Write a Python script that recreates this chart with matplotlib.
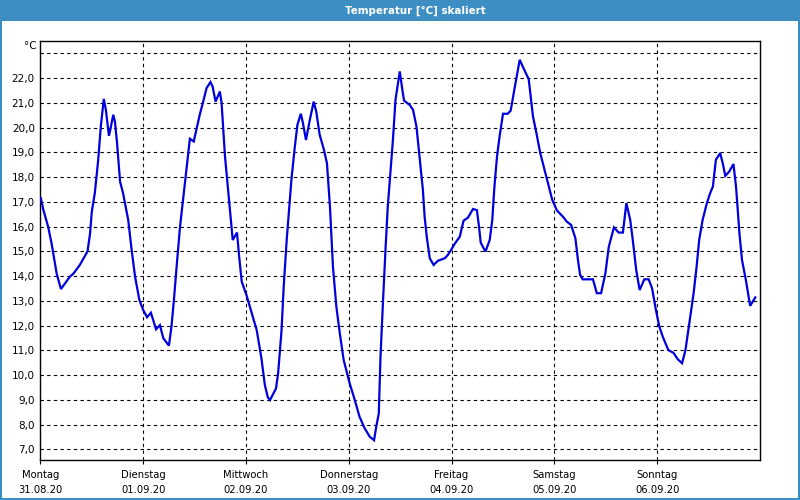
import matplotlib
matplotlib.use("Agg")
import matplotlib.pyplot as plt
from matplotlib.patches import Rectangle

# time in hours since 31.08.20 00:00, temperature in °C
hours = [0.1, 0.7, 1.8, 2.6, 3.8, 4.8, 6.9, 7.7, 9.2, 11.0, 11.6, 12.0, 12.7, 13.5, 14.1,
         14.8, 15.3, 16.0, 16.4, 17.0, 17.4, 17.9, 18.6, 19.3, 20.5, 21.3, 22.1, 23.1, 24.0,
         24.9, 25.8, 27.0, 27.9, 28.7, 30.0, 30.6, 31.2, 31.8, 32.6, 33.3, 34.1, 34.9, 35.8,
         36.5, 37.2, 38.0, 38.8, 39.7, 40.2, 40.9, 41.9, 42.3, 43.1, 44.1, 44.9, 45.9, 46.4,
         47.0, 48.1, 49.7, 50.5, 51.6, 52.4, 53.1, 53.6, 55.0, 55.5, 56.3, 56.8, 57.5, 58.1,
         58.6, 59.4, 60.0, 60.8, 61.3, 62.0, 62.9, 63.8, 64.4, 65.2, 66.2, 66.9, 67.6, 68.3,
         69.1, 69.9, 70.8, 72.2, 73.4, 74.5, 75.7, 76.9, 77.9, 78.4, 79.0, 79.4, 80.0, 80.6,
         81.1, 81.7, 82.3, 82.9, 83.9, 84.5, 84.9, 86.2, 87.0, 87.8, 88.5, 89.3, 89.7, 90.2,
         90.9, 91.8, 92.8, 94.4, 95.1, 95.9, 96.7, 97.9, 98.8, 99.8, 101.0, 101.9, 102.4,
         102.8, 103.9, 104.9, 105.5, 106.0, 106.6, 107.2, 108.0, 109.1, 109.8, 110.5, 111.2,
         111.9, 112.6, 114.0, 115.0, 115.8, 116.7, 117.7, 118.5, 119.5, 120.6, 122.0, 122.9,
         123.9, 124.9, 125.5, 126.0, 126.6, 129.0, 129.9, 130.9, 131.9, 132.7, 133.9, 135.0,
         136.0, 136.8, 137.7, 138.3, 139.1, 139.9, 141.0, 142.0, 142.8, 143.7, 144.5, 145.3,
         146.6, 147.8, 148.8, 149.8, 150.6, 151.5, 152.5, 153.2, 153.8, 154.6, 155.6, 156.3,
         157.0, 157.7, 158.7, 159.3, 159.9, 160.8, 161.8, 162.4, 163.2, 163.8, 164.7, 165.7,
         166.3, 166.9]
temps = [17.15, 16.67, 16.0, 15.33, 14.1, 13.48, 13.98, 14.1, 14.45, 15.0, 15.73, 16.6,
         17.35, 18.7, 20.04, 21.16, 20.7, 19.67, 19.98, 20.52, 20.25, 19.37, 17.82, 17.35,
         16.27, 15.06, 13.98, 13.04, 12.63, 12.34, 12.52, 11.85, 12.02, 11.49, 11.19, 11.96,
         13.1, 14.38, 16.0, 17.08, 18.29, 19.55, 19.44, 19.98, 20.52, 21.05, 21.6, 21.84,
         21.66, 21.05, 21.46, 20.99, 18.83, 16.95, 15.46, 15.76, 14.79, 13.78, 13.24, 12.3,
         11.82, 10.68, 9.6, 9.1, 8.99, 9.46, 10.07, 11.82, 13.57, 15.46, 16.81, 17.89, 19.23,
         20.11, 20.56, 20.18, 19.5, 20.31, 21.05, 20.65, 19.71, 19.1, 18.56, 16.81, 14.38,
         12.76, 11.69, 10.61, 9.67, 8.99, 8.32, 7.85, 7.51, 7.37, 7.91, 8.45, 10.74, 13.04,
         15.19, 16.81, 18.16, 19.5, 21.12, 22.27, 21.53, 21.09, 20.92, 20.72, 20.04, 18.83,
         17.48, 16.4, 15.59, 14.72, 14.45, 14.62, 14.72, 14.85, 15.06, 15.3, 15.59, 16.24,
         16.36, 16.71, 16.67, 16.0, 15.35, 14.99, 15.46, 16.27, 17.62, 18.83, 19.64, 20.56,
         20.56, 20.69, 21.39, 22.06, 22.74, 22.47, 21.96, 20.45, 19.78, 18.97, 18.29, 17.75,
         17.08, 16.65, 16.4, 16.2, 16.07, 15.53, 14.65, 14.05, 13.87, 13.87, 13.31, 13.31,
         14.11, 15.19, 15.97, 15.76, 15.76, 16.95, 16.27, 15.46, 14.25, 13.44, 13.87, 13.87,
         13.51, 12.63, 11.96, 11.55, 11.01, 10.9, 10.64, 10.48, 11.01, 12.09, 13.31, 14.38,
         15.46, 16.27, 16.95, 17.32, 17.62, 18.7, 18.97, 18.56, 18.05, 18.22, 18.53, 17.62,
         15.73, 14.65, 13.84, 12.8, 12.97, 13.14]

day_names = ["Montag", "Dienstag", "Mittwoch", "Donnerstag", "Freitag", "Samstag", "Sonntag"]
day_dates = ["31.08.20", "01.09.20", "02.09.20", "03.09.20", "04.09.20", "05.09.20", "06.09.20"]
y_ticks = [7, 8, 9, 10, 11, 12, 13, 14, 15, 16, 17, 18, 19, 20, 21, 22]
y_grid_extra = [23]
title = "Temperatur [°C] skaliert"
unit = "°C"

W, H = 800, 500
fig = plt.figure(figsize=(8, 5), dpi=100)
fig.patch.set_facecolor("white")

bar_color = "#3d8fc3"
# title bar
fig.patches.append(Rectangle((0, 1 - 21 / H), 1, 21 / H, transform=fig.transFigure,
                             facecolor=bar_color, edgecolor="none", zorder=0))
# outer border
fig.patches.append(Rectangle((0.001, 0.002), 0.998, 0.996, transform=fig.transFigure,
                             facecolor="none", edgecolor=bar_color, lw=1.5, zorder=5))
fig.text(415 / W, 1 - 10.5 / H, title, ha="center", va="center", color="white",
         fontsize=7.4, fontweight="bold")

left, right, top, bottom = 40.4, 760, 40.5, 460
ax = fig.add_axes([left / W, 1 - bottom / H, (right - left) / W, (bottom - top) / H])
ax.set_facecolor("white")

ax.plot(hours, temps, color="#0000dd", lw=1.6, zorder=3, solid_joinstyle="miter")

ax.set_xlim(0, 168)
ax.set_ylim(6.57, 23.52)

xt = [24 * i for i in range(len(day_names))]
ax.set_xticks(xt)
ax.set_xticklabels([f"{n}\n{d}" for n, d in zip(day_names, day_dates)],
                   fontsize=7.2, linespacing=1.6)
ax.set_yticks(y_ticks)
ax.set_yticklabels([f"{v:.1f}".replace(".", ",") for v in y_ticks], fontsize=7.5)
ax.tick_params(axis="y", length=0, pad=4)
ax.tick_params(axis="x", length=3, width=0.8, pad=4.5, direction="out")

grid_kw = dict(color="black", lw=0.8, linestyle=(0, (3, 3)), zorder=1)
for v in y_ticks + y_grid_extra:
    ax.axhline(v, **grid_kw)
for v in xt[1:]:
    ax.axvline(v, **grid_kw)

for s in ax.spines.values():
    s.set_color("black")
    s.set_linewidth(1.0)

fig.text(37 / W, 1 - 46 / H, unit, ha="right", va="center", fontsize=7.5)

fig.savefig("out.png", dpi=100)
